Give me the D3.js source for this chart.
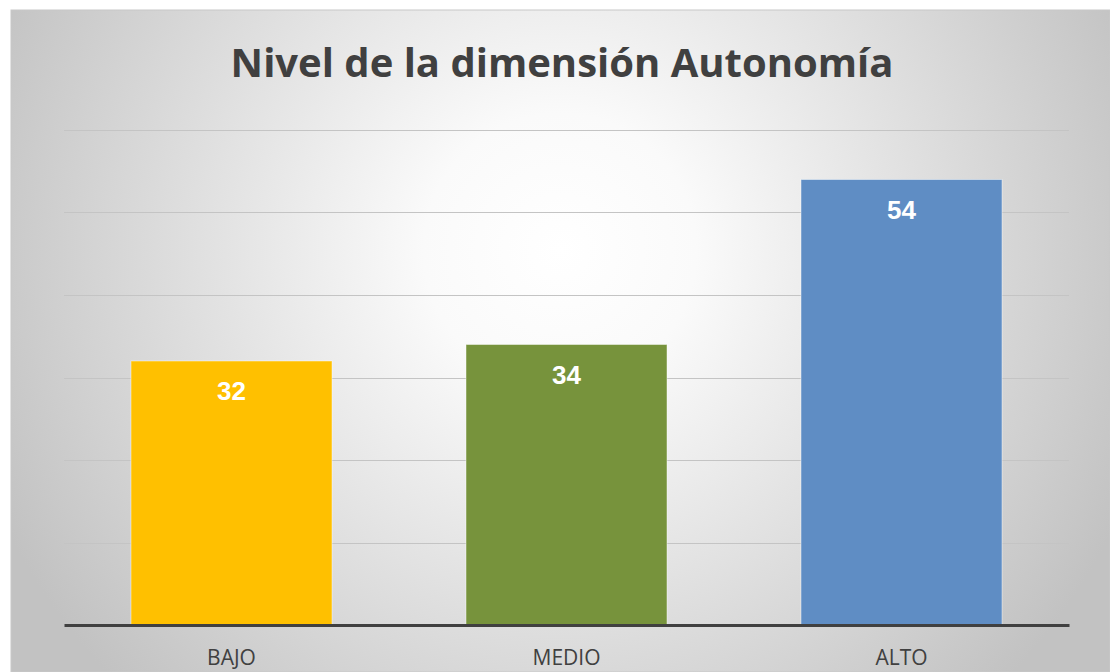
<!DOCTYPE html>
<html>
<head>
<meta charset="utf-8">
<script src="https://cdn.jsdelivr.net/npm/d3@7"></script>
<style>
   body { margin: 0; background: #fff; }
   svg { display: block; }
</style>
</head>
<body>
<div id="chart"></div>
<script>
// Nivel de la dimension Autonomia
var categories = ["BAJO", "MEDIO", "ALTO"];
var values = [32, 34, 54];
var barColors = ["#FFC000", "#77933C", "#5F8DC4"];
var gridTicks = [0, 10, 20, 30, 40, 50, 60];

var svgWidth = 1110;
var svgHeight = 672;

var margin = {
   top: 130,
   right: 41,
   bottom: 47,
   left: 64
};

var width = svgWidth - margin.left - margin.right;
var height = svgHeight - margin.top - margin.bottom;

var svg = d3.select("#chart")
   .append("svg")
   .attr("width", svgWidth)
   .attr("height", svgHeight);

// background gradient
var defs = svg.append("defs");
var grad = defs.append("radialGradient")
   .attr("id", "bg")
   .attr("gradientUnits", "userSpaceOnUse")
   .attr("cx", 560)
   .attr("cy", 250)
   .attr("r", 620);
grad.append("stop").attr("offset", "0%").attr("stop-color", "#ffffff");
grad.append("stop").attr("offset", "22%").attr("stop-color", "#fafafa");
grad.append("stop").attr("offset", "100%").attr("stop-color", "#c2c2c2");

svg.append("rect")
   .attr("x", 11)
   .attr("y", 10)
   .attr("width", svgWidth - 11)
   .attr("height", svgHeight - 10)
   .attr("fill", "url(#bg)")
   .attr("stroke", "#c8c8c8")
   .attr("stroke-width", 1);

var chartGroup = svg.append("g")
   .attr("transform", `translate(${margin.left}, ${margin.top})`);

// scales
var xBandScale = d3.scaleBand()
   .domain(categories)
   .range([0, width])
   .paddingInner(0.4)
   .paddingOuter(0.2);

var yLinearScale = d3.scaleLinear()
   .domain([0, 60])
   .range([height, 0]);

// gridlines
chartGroup.append("g")
   .selectAll("line")
   .data(gridTicks.slice(1))
   .enter()
   .append("line")
   .attr("x1", 0)
   .attr("x2", width)
   .attr("y1", d => Math.round(yLinearScale(d)) + 0.5)
   .attr("y2", d => Math.round(yLinearScale(d)) + 0.5)
   .attr("stroke", "#c4c4c4")
   .attr("stroke-width", 1.2);

// bars
chartGroup.selectAll("rect.bar")
   .data(values)
   .enter()
   .append("rect")
   .attr("class", "bar")
   .attr("x", (d, i) => xBandScale(categories[i]))
   .attr("y", d => yLinearScale(d))
   .attr("width", xBandScale.bandwidth())
   .attr("height", d => height - yLinearScale(d))
   .attr("fill", (d, i) => barColors[i])
   .attr("stroke", "rgba(255,255,255,0.45)")
   .attr("stroke-width", 1);

// value labels
chartGroup.selectAll("text.value")
   .data(values)
   .enter()
   .append("text")
   .attr("class", "value")
   .attr("x", (d, i) => xBandScale(categories[i]) + xBandScale.bandwidth() / 2)
   .attr("y", d => yLinearScale(d) + 39)
   .attr("text-anchor", "middle")
   .attr("font-family", "Liberation Sans, Arial, sans-serif")
   .attr("font-weight", "bold")
   .attr("font-size", "26px")
   .attr("fill", "#ffffff")
   .text(d => d);

// x axis
var bottomAxis = d3.axisBottom(xBandScale).tickSize(0).tickPadding(25);
var xAxis = chartGroup.append("g")
   .attr("transform", `translate(0, ${height})`)
   .call(bottomAxis);
xAxis.select(".domain")
   .attr("stroke", "#404040")
   .attr("stroke-width", 3);
xAxis.selectAll("text")
   .attr("font-family", "Open Sans, sans-serif")
   .attr("font-size", "21px")
   .attr("fill", "#404040");

// title
svg.append("text")
   .attr("x", 562)
   .attr("y", 77)
   .attr("text-anchor", "middle")
   .attr("font-family", "Open Sans, sans-serif")
   .attr("font-weight", "bold")
   .attr("font-size", "40px")
   .attr("fill", "#404040")
   .text("Nivel de la dimensión Autonomía");
</script>
</body>
</html>
